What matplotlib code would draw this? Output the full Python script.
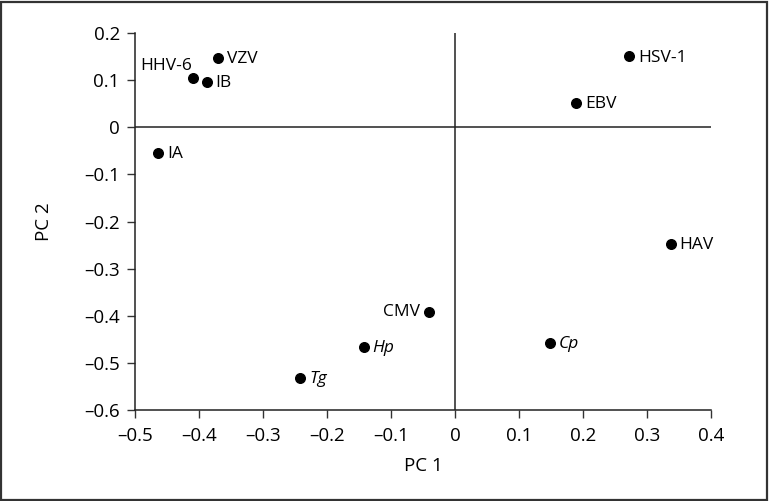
import matplotlib
matplotlib.use('Agg')
import matplotlib.pyplot as plt

plt.rcParams['font.family'] = ['Open Sans', 'DejaVu Sans']

names = ['VZV', 'HHV-6', 'IB', 'IA', 'HSV-1', 'EBV', 'HAV', 'CMV', 'Hp', 'Cp', 'Tg']
pc1 = [-0.370, -0.409, -0.388, -0.464, 0.272, 0.189, 0.337, -0.040, -0.143, 0.148, -0.242]
pc2 = [0.147, 0.105, 0.096, -0.054, 0.151, 0.052, -0.247, -0.393, -0.466, -0.458, -0.531]
italic = ['Hp', 'Cp', 'Tg']

xticks = [-0.5, -0.4, -0.3, -0.2, -0.1, 0, 0.1, 0.2, 0.3, 0.4]
yticks = [-0.6, -0.5, -0.4, -0.3, -0.2, -0.1, 0, 0.1, 0.2]

def fmt(v):
    if v == 0:
        return '0'
    s = f'{abs(v):.1f}'
    return ('\u2013' + s) if v < 0 else s

fig = plt.figure(figsize=(7.69, 5.01), dpi=100)
ax = fig.add_axes([0.1756, 0.1816, 0.749, 0.7524])

ax.axhline(0, color='#222222', lw=1.1, zorder=1)
ax.axvline(0, color='#222222', lw=1.1, zorder=1)
ax.scatter(pc1, pc2, s=48, color='black', zorder=3)

for n, x, y in zip(names, pc1, pc2):
    style = 'italic' if n in italic else 'normal'
    if n == 'HHV-6':
        ax.annotate(n, (x, y), xytext=(-1, 3), textcoords='offset points',
                    ha='right', va='bottom', fontsize=12.5, style=style)
    elif n == 'CMV':
        ax.annotate(n, (x, y), xytext=(-7, 0), textcoords='offset points',
                    ha='right', va='center', fontsize=12.5, style=style)
    else:
        ax.annotate(n, (x, y), xytext=(6.5, -1), textcoords='offset points',
                    ha='left', va='center', fontsize=12.5, style=style)

ax.set_xlim(-0.5, 0.4)
ax.set_ylim(-0.6, 0.2)
ax.set_xticks(xticks)
ax.set_xticklabels([fmt(v) for v in xticks])
ax.set_yticks(yticks)
ax.set_yticklabels([fmt(v) for v in yticks])
ax.tick_params(direction='out', length=6, width=1, color='#333333', labelsize=13.5)
ax.tick_params(axis='y', pad=5)
ax.tick_params(axis='x', pad=6)
for side in ['top', 'right']:
    ax.spines[side].set_visible(False)
for side in ['left', 'bottom']:
    ax.spines[side].set_color('#222222')
    ax.spines[side].set_linewidth(1.1)

ax.set_xlabel('PC 1', fontsize=13.5, labelpad=9)
ax.set_ylabel('PC 2', fontsize=13.5, labelpad=22)

fig.patches.append(plt.Rectangle((0.001, 0.002), 0.997, 0.995, transform=fig.transFigure,
                                 fill=False, edgecolor='#333333', lw=1.6))

fig.savefig('out.png', dpi=100)
